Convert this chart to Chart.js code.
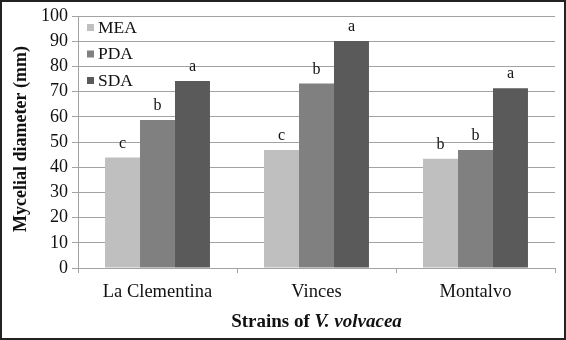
<!DOCTYPE html>
<html>
<head>
<meta charset="utf-8">
<script src="https://cdn.jsdelivr.net/npm/chart.js@4/dist/chart.umd.min.js"></script>
<style>
  html, body { margin: 0; padding: 0; background: #fff; }
  #wrap { width: 566px; height: 340px; position: relative; }
</style>
</head>
<body>
<div id="wrap"><canvas id="myChart" width="566" height="340"></canvas></div>
<script>
const strains = ['La Clementina', 'Vinces', 'Montalvo'];
const meaValues = [43.8, 46.8, 43.4];
const pdaValues = [58.7, 73.2, 46.8];
const sdaValues = [74.2, 90.1, 71.3];
const meaLetters = ['c', 'c', 'b'];
const pdaLetters = ['b', 'b', 'b'];
const sdaLetters = ['a', 'a', 'a'];
const yTicks = [0, 10, 20, 30, 40, 50, 60, 70, 80, 90, 100];

const serif = '"Liberation Serif", "Times New Roman", serif';
const gridColor = '#a3a3a3';

// letters above bars, legend, titles and outer frame
const extras = {
    id: 'extras',
    afterDatasetsDraw(chart) {
        const c = chart.ctx;
        const area = chart.chartArea;
        c.save();
        c.fillStyle = '#111';
        c.font = '16px ' + serif;
        c.textAlign = 'center';
        c.textBaseline = 'alphabetic';
        chart.data.datasets.forEach((ds, i) => {
            chart.getDatasetMeta(i).data.forEach((bar, j) => {
                c.fillText(ds.letters[j], bar.x, bar.y - 10);
            });
        });

        // legend inside plot, top left
        c.textAlign = 'left';
        c.textBaseline = 'middle';
        c.font = '17.5px ' + serif;
        chart.data.datasets.forEach((ds, i) => {
            const y = area.top + 12 + i * 26.5;
            c.fillStyle = ds.backgroundColor;
            c.fillRect(area.left + 9, y - 4, 7, 7);
            c.fillStyle = '#111';
            c.fillText(ds.label, area.left + 20, y);
        });

        // y title
        c.save();
        c.translate(21, (area.top + area.bottom) / 2 - 3);
        c.rotate(-Math.PI / 2);
        c.textAlign = 'center';
        c.font = 'bold 18px ' + serif;
        c.fillText('Mycelial diameter (mm)', 0, 0);
        c.restore();

        // x title, mixed bold / bold italic
        const part1 = 'Strains of ';
        const part2 = 'V. volvacea';
        c.font = 'bold 19px ' + serif;
        const w1 = c.measureText(part1).width;
        c.font = 'italic bold 19px ' + serif;
        const w2 = c.measureText(part2).width;
        const x0 = (area.left + area.right) / 2 - (w1 + w2) / 2;
        c.textAlign = 'left';
        c.font = 'bold 19px ' + serif;
        c.fillText(part1, x0, 322);
        c.font = 'italic bold 19px ' + serif;
        c.fillText(part2, x0 + w1, 322);

        // frame
        c.strokeStyle = '#222';
        c.lineWidth = 2;
        c.strokeRect(1, 1, chart.width - 2, chart.height - 2);
        c.restore();
    }
};

new Chart(document.getElementById('myChart'), {
    type: 'bar',
    data: {
        labels: strains,
        datasets: [
            { label: 'MEA', data: meaValues, letters: meaLetters, backgroundColor: '#bfbfbf' },
            { label: 'PDA', data: pdaValues, letters: pdaLetters, backgroundColor: '#808080' },
            { label: 'SDA', data: sdaValues, letters: sdaLetters, backgroundColor: '#5a5a5a' }
        ]
    },
    options: {
        responsive: false,
        animation: false,
        layout: { padding: { left: 0, top: 16, right: 11, bottom: 0 } },
        datasets: { bar: { categoryPercentage: 0.66, barPercentage: 1.0 } },
        plugins: { legend: { display: false }, tooltip: { enabled: false } },
        scales: {
            x: {
                afterFit(scale) { scale.height = 72; },
                grid: { offset: true, drawOnChartArea: false, drawTicks: true, tickLength: 5, color: gridColor },
                border: { color: gridColor },
                ticks: { color: '#111', font: { family: serif, size: 18.5 }, padding: 8 }
            },
            y: {
                min: 0,
                max: 100,
                afterFit(scale) { scale.width = 78; },
                afterBuildTicks(scale) { scale.ticks = yTicks.map(v => ({ value: v })); },
                grid: { color: gridColor, tickLength: 6 },
                border: { color: gridColor },
                ticks: { color: '#111', font: { family: serif, size: 18 }, padding: 4 }
            }
        }
    },
    plugins: [extras]
});
</script>
</body>
</html>
